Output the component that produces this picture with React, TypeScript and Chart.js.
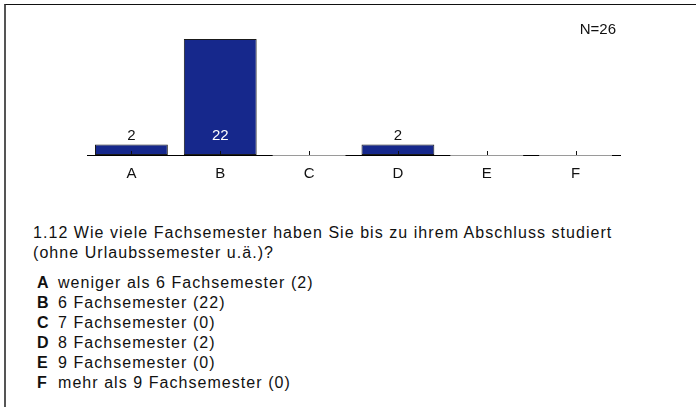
import React, { useEffect, useRef } from "react";
import { Chart, registerables } from "chart.js";
Chart.register(...registerables);

const categories = ["A", "B", "C", "D", "E", "F"];
const counts = [2, 22, 0, 2, 0, 0];
const answerTexts = [
  "weniger als 6 Fachsemester",
  "6 Fachsemester",
  "7 Fachsemester",
  "8 Fachsemester",
  "9 Fachsemester",
  "mehr als 9 Fachsemester",
];
const questionLines = [
  "1.12 Wie viele Fachsemester haben Sie bis zu ihrem Abschluss studiert",
  "(ohne Urlaubssemester u.ä.)?",
];
const sampleLabel = "N=26";
const yMax = 26;

const FONT = "'Liberation Sans', Arial, Helvetica, sans-serif";
const BAR_COLOR = "#16288c";

const barDecor = {
  id: "barDecor",
  afterDatasetsDraw(chart: any) {
    const ctx = chart.ctx;
    const meta = chart.getDatasetMeta(0);
    const values = chart.data.datasets[0].data as number[];
    ctx.save();
    meta.data.forEach((bar: any, i: number) => {
      const { x, y, base, width } = bar.getProps(["x", "y", "base", "width"], true);
      if (values[i] === 0) {
        ctx.strokeStyle = "#9a9a9a";
        ctx.lineWidth = 1;
        ctx.beginPath();
        ctx.moveTo(x - width / 2, Math.round(base) + 0.5);
        ctx.lineTo(x + width / 2, Math.round(base) + 0.5);
        ctx.stroke();
      }
      ctx.strokeStyle = "#111";
      ctx.lineWidth = 1;
      ctx.beginPath();
      ctx.moveTo(Math.round(x) + 0.5, base - 4);
      ctx.lineTo(Math.round(x) + 0.5, base);
      ctx.stroke();
      if (values[i] > 0) {
        const ly = base - 19;
        ctx.font = `15px ${FONT}`;
        ctx.textAlign = "center";
        ctx.textBaseline = "middle";
        ctx.fillStyle = y < ly - 9 ? "#ffffff" : "#111111";
        ctx.fillText(String(values[i]), x, ly);
      }
    });
    ctx.restore();
  },
};

function BarChart() {
  const ref = useRef<HTMLCanvasElement | null>(null);
  useEffect(() => {
    if (!ref.current) return;
    Chart.defaults.font.family = FONT;
    const chart = new Chart(ref.current, {
      type: "bar",
      data: {
        labels: categories,
        datasets: [
          {
            data: counts,
            backgroundColor: BAR_COLOR,
            borderColor: "#1a1a1a",
            borderWidth: 1,
            borderSkipped: false,
            barPercentage: 0.82,
            categoryPercentage: 1,
          },
        ],
      },
      options: {
        responsive: false,
        animation: false,
        layout: { padding: { left: 87, right: 76, top: 18, bottom: 7 } },
        plugins: { legend: { display: false }, tooltip: { enabled: false } },
        scales: {
          x: {
            grid: { display: false, drawTicks: false },
            border: { display: true, color: "#000", width: 1 },
            ticks: { color: "#111", font: { size: 15, family: FONT }, padding: 10 },
          },
          y: { display: false, min: 0, max: yMax },
        },
      },
      plugins: [barDecor],
    });
    return () => chart.destroy();
  }, []);
  return (
    <canvas
      ref={ref}
      width={696}
      height={200}
      style={{ position: "absolute", left: 0, top: 0, width: 696, height: 200 }}
    />
  );
}

export default function App() {
  return (
    <div
      style={{
        position: "fixed",
        left: 0,
        top: 0,
        width: 696,
        height: 407,
        background: "#fff",
        overflow: "hidden",
        fontFamily: FONT,
        color: "#111",
      }}
    >
      <div
        style={{
          position: "absolute",
          left: 4,
          top: 4,
          right: -10,
          bottom: -10,
          borderTop: "1px solid #111",
          borderLeft: "2px solid #555",
        }}
      />
      <BarChart />
      <div
        style={{
          position: "absolute",
          right: 80,
          top: 20,
          fontSize: 15,
          lineHeight: "18px",
        }}
      >
        {sampleLabel}
      </div>
      <div
        style={{
          position: "absolute",
          left: 33,
          top: 223,
          fontSize: 16,
          letterSpacing: "1.05px",
          lineHeight: "20px",
          whiteSpace: "nowrap",
        }}
      >
        {questionLines.map((l, i) => (
          <div key={"q" + i}>{l}</div>
        ))}
        <div style={{ marginTop: 10 }}>
          {categories.map((c, i) => (
            <div key={c} style={{ paddingLeft: 4 }}>
              <span style={{ fontWeight: "bold", display: "inline-block", width: 21 }}>{c}</span>
              <span>{`${answerTexts[i]} (${counts[i]})`}</span>
            </div>
          ))}
        </div>
      </div>
    </div>
  );
}
